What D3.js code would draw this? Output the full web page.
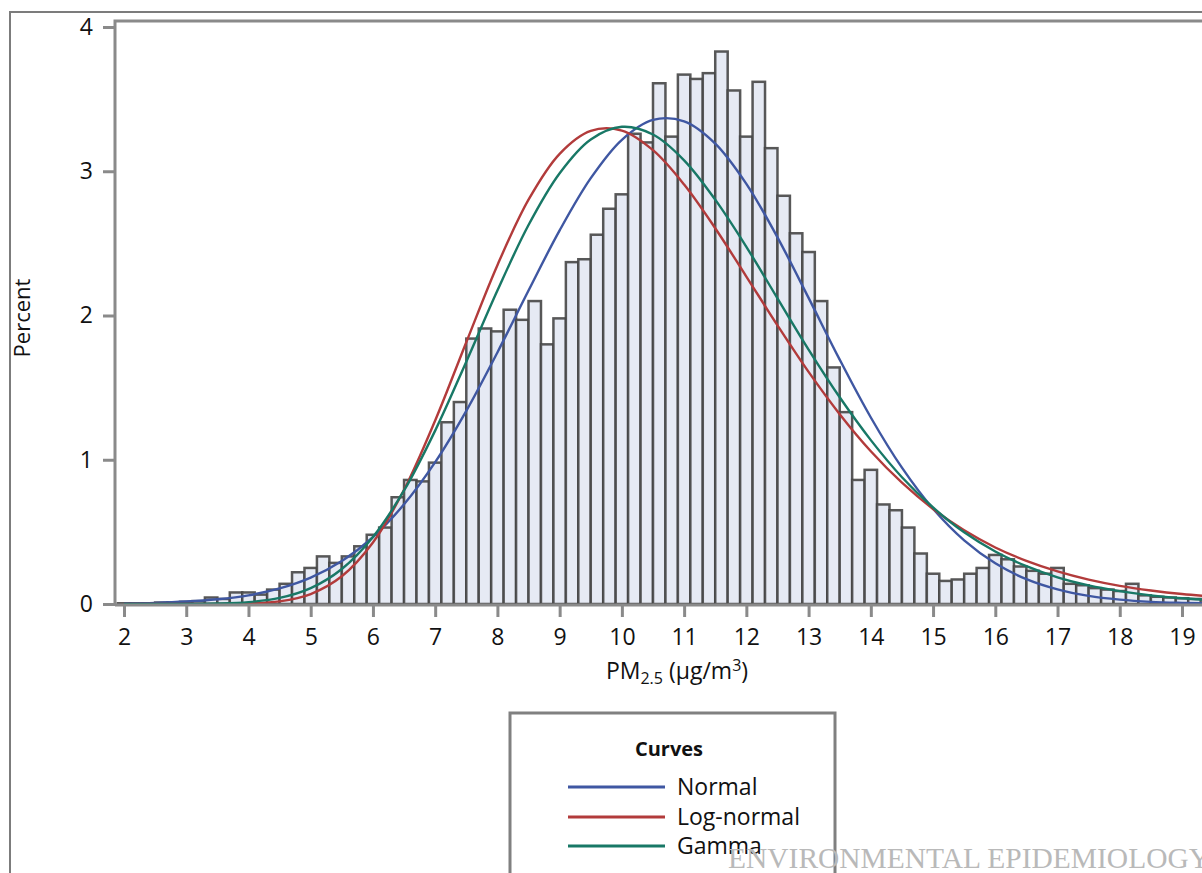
<!DOCTYPE html>
<html>
<head>
<meta charset="utf-8">
<script src="https://cdn.jsdelivr.net/npm/d3@7"></script>
<style>
  body { margin: 0; background: #fff; }
  svg { display: block; font-family: "Open Sans", sans-serif; }
</style>
</head>
<body>
<svg id="chart" width="1202" height="873"></svg>
<script>
// ------------ DATA -----------------

// histogram bins (PM2.5 midpoints, width 0.2) and percent of observations
const binCenters = [
  2.0, 2.2, 2.4, 2.6, 2.8, 3.0, 3.2, 3.4, 3.6, 3.8,
  4.0, 4.2, 4.4, 4.6, 4.8, 5.0, 5.2, 5.4, 5.6, 5.8,
  6.0, 6.2, 6.4, 6.6, 6.8, 7.0, 7.2, 7.4, 7.6, 7.8,
  8.0, 8.2, 8.4, 8.6, 8.8, 9.0, 9.2, 9.4, 9.6, 9.8,
  10.0, 10.2, 10.4, 10.6, 10.8, 11.0, 11.2, 11.4, 11.6, 11.8,
  12.0, 12.2, 12.4, 12.6, 12.8, 13.0, 13.2, 13.4, 13.6, 13.8,
  14.0, 14.2, 14.4, 14.6, 14.8, 15.0, 15.2, 15.4, 15.6, 15.8,
  16.0, 16.2, 16.4, 16.6, 16.8, 17.0, 17.2, 17.4, 17.6, 17.8,
  18.0, 18.2, 18.4, 18.6, 18.8, 19.0, 19.2
];
const binPercent = [
  0.005, 0.005, 0.005, 0.01, 0.01, 0.015, 0.02, 0.045, 0.035, 0.08,
  0.08, 0.065, 0.10, 0.14, 0.22, 0.25, 0.33, 0.285, 0.33, 0.40,
  0.48, 0.53, 0.74, 0.86, 0.85, 0.98, 1.26, 1.40, 1.84, 1.91,
  1.89, 2.04, 1.97, 2.10, 1.80, 1.98, 2.37, 2.39, 2.56, 2.74,
  2.84, 3.26, 3.20, 3.61, 3.24, 3.67, 3.64, 3.68, 3.83, 3.56,
  3.24, 3.62, 3.16, 2.83, 2.57, 2.44, 2.10, 1.64, 1.33, 0.86,
  0.93, 0.69, 0.65, 0.53, 0.35, 0.21, 0.16, 0.17, 0.21, 0.25,
  0.34, 0.31, 0.26, 0.23, 0.21, 0.25, 0.14, 0.13, 0.11, 0.10,
  0.09, 0.14, 0.06, 0.05, 0.045, 0.04, 0.035
];

// fitted curves, read at every 0.5 ug/m3
const curveX = [
  2, 2.5, 3, 3.5, 4, 4.5, 5, 5.5, 6, 6.5, 7, 7.5, 8, 8.5, 9, 9.5,
  10, 10.5, 11, 11.5, 12, 12.5, 13, 13.5, 14, 14.5, 15, 15.5, 16, 16.5,
  17, 17.5, 18, 18.5, 19, 19.5, 20
];
const normalPct = [
  0.004, 0.008, 0.017, 0.033, 0.060, 0.108, 0.183, 0.298, 0.464, 0.691, 0.983, 1.339, 1.744, 2.173, 2.590, 2.952,
  3.218, 3.356, 3.346, 3.192, 2.913, 2.542, 2.122, 1.694, 1.293, 0.945, 0.660, 0.441, 0.282, 0.172,
  0.101, 0.056, 0.030, 0.015, 0.008, 0.004, 0.002
];
const lognormalPct = [
  0, 0, 0, 0.0004, 0.0034, 0.018, 0.069, 0.192, 0.426, 0.792, 1.272, 1.815, 2.349, 2.803, 3.121, 3.280,
  3.282, 3.146, 2.908, 2.605, 2.270, 1.932, 1.609, 1.316, 1.059, 0.841, 0.659, 0.511, 0.392, 0.299,
  0.226, 0.169, 0.126, 0.094, 0.069, 0.051, 0.037
];
const gammaPct = [
  0, 0, 0.0005, 0.003, 0.013, 0.042, 0.110, 0.243, 0.465, 0.787, 1.202, 1.680, 2.173, 2.627, 2.986, 3.220,
  3.308, 3.255, 3.076, 2.803, 2.476, 2.119, 1.764, 1.433, 1.136, 0.879, 0.669, 0.497, 0.364, 0.262,
  0.185, 0.129, 0.089, 0.060, 0.040, 0.027, 0.017
];

const xTicks = [2, 3, 4, 5, 6, 7, 8, 9, 10, 11, 12, 13, 14, 15, 16, 17, 18, 19];
const yTicks = [0, 1, 2, 3, 4];

const seriesNames = ["Normal", "Log-normal", "Gamma"];
const seriesColors = ["#3f57a2", "#b23b3b", "#187866"];

// ------------ SCALES -----------------

const svg = d3.select("#chart");
const plotLeft = 115, plotTop = 21, plotBottom = 605;

const x = d3.scaleLinear().domain([2, 19]).range([124, 1182]);
const y = d3.scaleLinear().domain([0, 4]).range([604, 27]);

const axisGray = "#8a8a8a";

// outer figure frame
svg.append("path")
  .attr("d", "M10,873 V12 H1202")
  .attr("fill", "none")
  .attr("stroke", "#7c7c7c")
  .attr("stroke-width", 2);

svg.append("clipPath").attr("id", "plotclip")
  .append("rect")
  .attr("x", plotLeft + 1).attr("y", plotTop)
  .attr("width", 1202 - plotLeft).attr("height", plotBottom - plotTop);

const plot = svg.append("g").attr("clip-path", "url(#plotclip)");

// ------------ BARS -----------------

plot.selectAll("rect.bar")
  .data(binCenters.map((c, i) => ({ c, v: binPercent[i] })))
  .enter()
  .append("rect")
  .attr("class", "bar")
  .attr("x", d => x(d.c - 0.1))
  .attr("width", d => x(d.c + 0.1) - x(d.c - 0.1))
  .attr("y", d => y(d.v))
  .attr("height", d => y(0) - y(d.v))
  .attr("fill", "#e6eaf4")
  .attr("stroke", "#464646")
  .attr("stroke-opacity", 0.9)
  .attr("stroke-width", 2.5);

// ------------ CURVES -----------------

const line = d3.line()
  .x(d => x(d[0]))
  .y(d => y(d[1]))
  .curve(d3.curveCatmullRom.alpha(0.5));

[normalPct, lognormalPct, gammaPct].forEach((vals, i) => {
  plot.append("path")
    .datum(curveX.map((cx, j) => [cx, vals[j]]))
    .attr("d", line)
    .attr("fill", "none")
    .attr("stroke", seriesColors[i])
    .attr("stroke-width", 2.4);
});

// ------------ AXES -----------------

// plot frame (left + top)
svg.append("path")
  .attr("d", `M${plotLeft},${plotBottom + 1} V${plotTop} H1202`)
  .attr("fill", "none")
  .attr("stroke", axisGray)
  .attr("stroke-width", 3);

// baseline
svg.append("line")
  .attr("x1", plotLeft).attr("x2", 1202)
  .attr("y1", plotBottom).attr("y2", plotBottom)
  .attr("stroke", axisGray)
  .attr("stroke-width", 3);

const xAxis = svg.append("g")
  .attr("transform", `translate(0,${plotBottom + 1})`)
  .call(d3.axisBottom(x).tickValues(xTicks).tickSize(11).tickPadding(12).tickFormat(d3.format("d")));

const yAxis = svg.append("g")
  .attr("transform", `translate(${plotLeft},0)`)
  .call(d3.axisLeft(y).tickValues(yTicks).tickSize(12).tickPadding(10).tickFormat(d3.format("d")));

[xAxis, yAxis].forEach(g => {
  g.select(".domain").remove();
  g.selectAll(".tick line").attr("stroke", axisGray).attr("stroke-width", 3);
  g.selectAll(".tick text")
    .attr("fill", "#111")
    .style("font-family", "'Open Sans', sans-serif")
    .style("font-size", "23px");
});

// axis titles
const xTitle = svg.append("text")
  .attr("x", 677).attr("y", 679)
  .attr("text-anchor", "middle")
  .attr("fill", "#111")
  .style("font-size", "23px");
xTitle.append("tspan").text("PM");
xTitle.append("tspan").attr("dy", 5).style("font-size", "16px").text("2.5");
xTitle.append("tspan").attr("dy", -5).text(" (µg/m");
xTitle.append("tspan").attr("dy", -8).style("font-size", "16px").text("3");
xTitle.append("tspan").attr("dy", 8).text(")");

svg.append("text")
  .attr("transform", "translate(30,318) rotate(-90)")
  .attr("text-anchor", "middle")
  .attr("fill", "#111")
  .style("font-size", "22px")
  .text("Percent");

// ------------ LEGEND -----------------

svg.append("rect")
  .attr("x", 510).attr("y", 713)
  .attr("width", 325).attr("height", 200)
  .attr("fill", "none")
  .attr("stroke", "#808080")
  .attr("stroke-width", 3);

svg.append("text")
  .attr("x", 669).attr("y", 756)
  .attr("text-anchor", "middle")
  .attr("fill", "#111")
  .style("font-size", "20px")
  .style("font-weight", "bold")
  .text("Curves");

const legendRows = [787, 817, 846];
seriesNames.forEach((name, i) => {
  svg.append("line")
    .attr("x1", 568).attr("x2", 665)
    .attr("y1", legendRows[i]).attr("y2", legendRows[i])
    .attr("stroke", seriesColors[i])
    .attr("stroke-width", 3);
  svg.append("text")
    .attr("x", 677).attr("y", legendRows[i] + 8)
    .attr("fill", "#111")
    .style("font-size", "23px")
    .text(name);
});

// journal watermark (overlaps the legend and runs off the edge, as in the source figure)
svg.append("text")
  .attr("x", 728).attr("y", 868)
  .attr("fill", "#b9b9b9")
  .attr("textLength", 482)
  .attr("lengthAdjust", "spacingAndGlyphs")
  .style("font-family", "'Liberation Serif', 'DejaVu Serif', serif")
  .style("font-size", "30px")
  .text("ENVIRONMENTAL EPIDEMIOLOGY");
</script>
</body>
</html>
